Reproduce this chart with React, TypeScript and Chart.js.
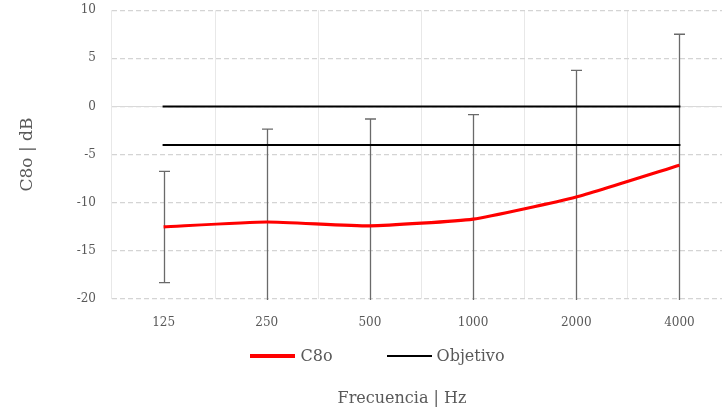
import React, { useEffect, useRef } from "react";
import { Chart, registerables } from "chart.js";

Chart.register(...registerables);

// ---- data ----
const categories = ["125", "250", "500", "1000", "2000", "4000"];
const c80Values = [-12.5, -12.0, -12.4, -11.7, -9.4, -6.1];
const c80ErrPlus = [5.75, 9.65, 11.1, 10.85, 13.15, 13.6];
const c80ErrMinus = [5.8, 9.65, 11.1, 10.85, 13.15, 14.5];
const objetivoUpper = [0, 0, 0, 0, 0, 0];
const objetivoLower = [-4, -4, -4, -4, -4, -4];
const yMin = -20;
const yMax = 10;
const yStep = 5;

const seriesNames = ["C8o", "Objetivo"];
const seriesColors = ["#ff0000", "#000000"];

const FONT = "'DejaVu Serif', serif";
const TEXT = "#595959";

const W = 755;
const H = 412;

const backgroundPlugin = {
  id: "zeroAndErrors",
  beforeDatasetsDraw(chart: any) {
    const { ctx, chartArea, scales } = chart;
    const x = scales.x;
    const y = scales.y;
    ctx.save();
    // solid zero line
    ctx.strokeStyle = "#d9d9d9";
    ctx.lineWidth = 1;
    const y0 = Math.round(y.getPixelForValue(0)) + 0.5;
    ctx.beginPath();
    ctx.moveTo(chartArea.left, y0);
    ctx.lineTo(chartArea.right, y0);
    ctx.stroke();

    // error bars
    ctx.beginPath();
    ctx.rect(chartArea.left, chartArea.top - 1, chartArea.right - chartArea.left, chartArea.bottom - chartArea.top + 2);
    ctx.clip();
    ctx.strokeStyle = "#6a6a6a";
    ctx.lineWidth = 1.3;
    const cap = 5.5;
    c80Values.forEach((v, i) => {
      const px = Math.round(x.getPixelForValue(i)) + 0.5;
      const top = y.getPixelForValue(v + c80ErrPlus[i]);
      const bot = y.getPixelForValue(v - c80ErrMinus[i]);
      ctx.beginPath();
      ctx.moveTo(px, top);
      ctx.lineTo(px, bot);
      ctx.stroke();
      [top, bot].forEach((py) => {
        if (py >= chartArea.top - 0.5 && py <= chartArea.bottom + 0.5) {
          ctx.beginPath();
          ctx.moveTo(px - cap, py);
          ctx.lineTo(px + cap, py);
          ctx.stroke();
        }
      });
    });
    ctx.restore();
  },
};

export default function App() {
  const canvasRef = useRef<HTMLCanvasElement | null>(null);

  useEffect(() => {
    if (!canvasRef.current) return;
    Chart.defaults.font.family = FONT;
    Chart.defaults.color = TEXT;
    const chart = new Chart(canvasRef.current, {
      type: "line",
      data: {
        labels: categories,
        datasets: [
          {
            label: seriesNames[0],
            data: c80Values,
            borderColor: seriesColors[0],
            backgroundColor: seriesColors[0],
            borderWidth: 3.2,
            pointRadius: 0,
            tension: 0.15,
          },
          {
            label: seriesNames[1],
            data: objetivoUpper,
            borderColor: seriesColors[1],
            backgroundColor: seriesColors[1],
            borderWidth: 2,
            pointRadius: 0,
            borderCapStyle: "square",
          },
          {
            label: "",
            data: objetivoLower,
            borderColor: seriesColors[1],
            backgroundColor: seriesColors[1],
            borderWidth: 2,
            pointRadius: 0,
            borderCapStyle: "square",
          },
        ],
      },
      plugins: [backgroundPlugin],
      options: {
        animation: false,
        responsive: true,
        maintainAspectRatio: false,
        layout: { padding: { top: 0, right: 24, bottom: 83, left: 0 } },
        plugins: {
          legend: { display: false },
          tooltip: { enabled: false },
        },
        scales: {
          x: {
            offset: true,
            grid: { offset: true, color: "#e8e8e8", lineWidth: 1, drawTicks: false },
            border: { display: false },
            ticks: { padding: 17, color: TEXT, font: { size: 12, family: FONT } },
            afterFit: (s: any) => {
              s.height = 30;
            },
          },
          y: {
            min: yMin,
            max: yMax,
            grid: {
              color: "#d4d4d4",
              lineWidth: 1.2,
              drawTicks: true,
              tickLength: 13,
              tickColor: "rgba(0,0,0,0)",
            },
            border: { display: false, dash: [5, 3] },
            ticks: { stepSize: yStep, padding: 3, color: TEXT, font: { size: 12, family: FONT } },
            title: {
              display: true,
              text: "C8o | dB",
              color: TEXT,
              font: { size: 17, family: FONT },
              padding: { top: 17, bottom: 0 },
            },
            afterFit: (s: any) => {
              s.width = 112;
            },
          },
        },
      },
    } as any);
    return () => chart.destroy();
  }, []);

  return (
    <div style={{ position: "fixed", left: 0, top: 0, width: 722, height: 412, overflow: "hidden", background: "#fff" }}>
      <div style={{ position: "absolute", left: 0, top: 0, width: W, height: H }}>
        <canvas ref={canvasRef} />
      </div>
      <div
        style={{
          position: "absolute",
          left: 0,
          top: 346,
          width: W,
          display: "flex",
          justifyContent: "center",
          alignItems: "center",
          fontFamily: FONT,
          fontSize: 16,
          lineHeight: "20px",
          color: TEXT,
          gap: 54,
        }}
      >
        {seriesNames.map((name, i) => (
          <div key={name} style={{ display: "flex", alignItems: "center", gap: 5 }}>
            <span style={{ display: "inline-block", width: 45, height: i === 0 ? 3.5 : 2, background: seriesColors[i] }} />
            <span>{name}</span>
          </div>
        ))}
      </div>
      <div
        style={{
          position: "absolute",
          left: 402,
          top: 388,
          transform: "translateX(-50%)",
          whiteSpace: "nowrap",
          fontFamily: FONT,
          fontSize: 16,
          lineHeight: "20px",
          color: TEXT,
        }}
      >
        Frecuencia | Hz
      </div>
    </div>
  );
}
